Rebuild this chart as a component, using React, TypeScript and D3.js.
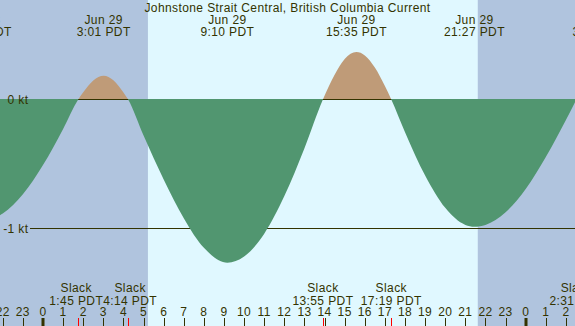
import React from 'react';
import * as d3 from 'd3';

const W = 575;
const H = 326;

// hours counted from Jun 29 00:00 PDT
const curveHours = [-3.067, -2, -1, 0, 1, 1.75, 2, 2.5, 3.017, 3.5, 4, 4.233, 5, 6, 7, 8, 9.167, 10, 11, 12, 13, 13.917, 14.5, 15, 15.583, 16, 16.5, 17, 17.317, 18, 19, 20, 21, 21.45, 22, 23, 24, 25, 26, 26.517, 27, 27.667];
const currentKnots = [-0.94, -0.884, -0.734, -0.508, -0.228, 0, 0.056, 0.148, 0.185, 0.15, 0.055, 0, -0.28, -0.62, -0.92, -1.15, -1.265, -1.217, -1.04, -0.749, -0.377, 0, 0.192, 0.314, 0.368, 0.342, 0.248, 0.104, 0, -0.253, -0.589, -0.84, -0.972, -0.986, -0.972, -0.874, -0.694, -0.446, -0.158, 0, 0.16, 0.25];

const maxHours = [-3.067, 3.017, 9.167, 15.583, 21.45, 27.667];
const maxDays = ['Jun 28', 'Jun 29', 'Jun 29', 'Jun 29', 'Jun 29', 'Jun 30'];
const maxTimes = ['20:56 PDT', '3:01 PDT', '9:10 PDT', '15:35 PDT', '21:27 PDT', '3:40 PDT'];

const slackHours = [1.75, 4.233, 13.917, 17.317, 26.517];
const slackTimes = ['1:45 PDT', '4:14 PDT', '13:55 PDT', '17:19 PDT', '2:31 PDT'];

const sunriseHour = 5.217;
const sunsetHour = 21.617;

const yTickValues = [0, -1];
const yTickLabels = ['0 kt', '-1 kt'];

const title = 'Johnstone Strait Central, British Columbia Current';

const NIGHT = '#b0c4de';
const DAY = '#e0f8ff';
const EBB = '#519670';
const FLOOD = '#bf9b78';
const INK = '#333300';
const FONT = '"Liberation Sans", Arial, sans-serif';
const LS = 0.4;

function textWidth(s: string): number {
  try {
    const ctx = document.createElement('canvas').getContext('2d');
    if (ctx) {
      ctx.font = '12px "Liberation Sans", Arial, sans-serif';
      return ctx.measureText(s).width + LS * s.length;
    }
  } catch (e) {}
  return s.length * 6.7;
}

// push apart neighbouring labels that would overlap
function spread(centers: number[], widths: number[]): number[] {
  const c = centers.slice();
  for (let i = 0; i < c.length - 1; i++) {
    const need = (widths[i] + widths[i + 1]) / 2;
    const gap = c[i + 1] - c[i];
    if (gap < need) {
      const d = (need - gap) / 2;
      c[i] -= d;
      c[i + 1] += d;
    }
  }
  return c;
}

export default function App() {
  const x = d3.scaleLinear().domain([0, 24]).range([43, 525.7]);
  const y = d3.scaleLinear().domain([0, -1]).range([99.5, 228.5]);
  const base = y(0) - 0.5;

  const pts: [number, number][] = curveHours.map((h, i) => [h, currentKnots[i]]);
  const area = d3
    .area<[number, number]>()
    .x((d) => x(d[0]))
    .y0(base)
    .y1((d) => y(d[1]))
    .curve(d3.curveMonotoneX);
  const areaPath = area(pts) || '';

  const hours = d3.range(Math.ceil(x.invert(-20)), Math.floor(x.invert(W + 20)) + 1);

  const slackX = spread(
    slackHours.map((h) => x(h)),
    slackTimes.map((s) => textWidth(s))
  );

  return (
    <svg width={W} height={H} style={{ position: 'absolute', left: 0, top: 0, display: 'block' }} fontFamily={FONT} fontSize={12} letterSpacing={LS}>
      <defs>
        <clipPath id="above">
          <rect x={0} y={0} width={W} height={base} />
        </clipPath>
        <clipPath id="below">
          <rect x={0} y={base} width={W} height={H - base} />
        </clipPath>
      </defs>
      <rect x={0} y={0} width={W} height={H} fill={NIGHT} />
      <rect x={x(sunriseHour)} y={0} width={x(sunsetHour) - x(sunriseHour)} height={H} fill={DAY} />

      {yTickValues.map((v, i) => (
        <line key={'yl' + i} x1={30} x2={W} y1={Math.round(y(v) - 0.5) + 0.5} y2={Math.round(y(v) - 0.5) + 0.5} stroke={INK} strokeWidth={1} />
      ))}

      <path d={areaPath} fill={FLOOD} clipPath="url(#above)" />
      <path d={areaPath} fill={EBB} clipPath="url(#below)" />

      {yTickValues.map((v, i) => (
        <text key={'yt' + i} x={28.5} y={y(v) + 4} textAnchor="end" fill={INK}>{yTickLabels[i]}</text>
      ))}

      <text x={W / 2} y={12} textAnchor="middle" fill={INK}>{title}</text>
      {maxHours.map((h, i) => (
        <g key={'mx' + i}>
          <text x={x(h)} y={23.5} textAnchor="middle" fill={INK}>{maxDays[i]}</text>
          <text x={x(h)} y={35.5} textAnchor="middle" fill={INK}>{maxTimes[i]}</text>
        </g>
      ))}

      {slackHours.map((h, i) => (
        <g key={'sl' + i}>
          <text x={slackX[i]} y={292} textAnchor="middle" fill={INK}>Slack</text>
          <text x={slackX[i]} y={304.5} textAnchor="middle" fill={INK}>{slackTimes[i]}</text>
        </g>
      ))}

      {hours.map((h) => {
        const xp = x(h);
        const label = String(((h % 24) + 24) % 24);
        const midnight = label === '0';
        return (
          <g key={'h' + h}>
            <text x={xp} y={316} textAnchor="middle" fill={INK}>{label}</text>
            {midnight ? (
              <rect x={Math.round(xp) - 1.5} y={318} width={3} height={8} fill={INK} />
            ) : (
              <line x1={Math.round(xp) + 0.5} x2={Math.round(xp) + 0.5} y1={318} y2={326} stroke={INK} strokeWidth={1} />
            )}
          </g>
        );
      })}
      {slackHours.map((h, i) => (
        <line key={'st' + i} x1={Math.round(x(h)) + 0.5} x2={Math.round(x(h)) + 0.5} y1={318} y2={326} stroke="#ff0000" strokeWidth={1} />
      ))}
    </svg>
  );
}
